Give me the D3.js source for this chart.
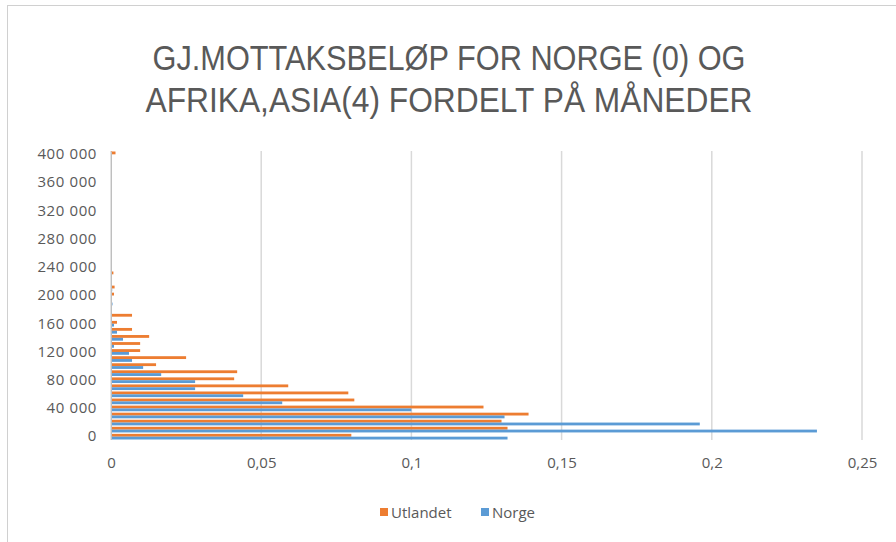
<!DOCTYPE html>
<html>
<head>
<meta charset="utf-8">
<script src="https://cdn.jsdelivr.net/npm/d3@7"></script>
<style>
  body { margin: 0; background: #fff; }
  svg { display: block; font-family: 'Open Sans', sans-serif; }
</style>
</head>
<body>
<div id="chart"></div>
<script>
// Categories (amount brackets) and share values per series
const categories = [0, 10000, 20000, 30000, 40000, 50000, 60000, 70000, 80000, 90000,
    100000, 110000, 120000, 130000, 140000, 150000, 160000, 170000, 180000, 190000,
    200000, 210000, 220000, 230000, 240000, 250000, 260000, 270000, 280000, 290000,
    300000, 310000, 320000, 330000, 340000, 350000, 360000, 370000, 380000, 390000, 400000];

const utlandet = [0.080, 0.132, 0.130, 0.139, 0.124, 0.081, 0.079, 0.059, 0.041, 0.042,
    0.015, 0.025, 0.0097, 0.0097, 0.0127, 0.007, 0.002, 0.007, 0, 0,
    0.001, 0.0012, 0, 0.0008, 0, 0, 0, 0, 0, 0,
    0, 0, 0, 0, 0, 0, 0, 0, 0, 0, 0.0015];

const norge = [0.132, 0.235, 0.196, 0.131, 0.100, 0.057, 0.044, 0.028, 0.028, 0.0167,
    0.0107, 0.007, 0.006, 0.001, 0.004, 0.002, 0.001, 0, 0, 0.0005,
    0.0003, 0.0004, 0, 0, 0, 0, 0, 0, 0, 0,
    0, 0, 0, 0, 0, 0, 0, 0, 0, 0, 0];

const xTicks = [0, 0.05, 0.1, 0.15, 0.2, 0.25];
const yLabelEvery = 4;
const titleLines = ['GJ.MOTTAKSBELØP FOR NORGE (0) OG', 'AFRIKA,ASIA(4) FORDELT PÅ MÅNEDER'];
const seriesNames = ['Utlandet', 'Norge'];
const colors = { Utlandet: '#ED7D31', Norge: '#5B9BD5' };

const width = 896, height = 542;
const svg = d3.select('#chart').append('svg')
    .attr('width', width)
    .attr('height', height);

// chart frame
svg.append('rect')
    .attr('x', 7.5).attr('y', 5.5)
    .attr('width', 900).attr('height', 600)
    .attr('fill', '#fff')
    .attr('stroke', '#d0d0d0');

const nb = d3.formatLocale({ decimal: ',', thousands: '\u00a0', grouping: [3], currency: ['', ' kr'] });
const fmtY = nb.format(',d');
const fmtX = v => (v === 0 ? '0' : nb.format('.2~f')(v));

const x = d3.scaleLinear().domain([0, 0.25]).range([111, 862]);
const y = d3.scaleBand().domain(categories).range([439.5, 151.5]).paddingInner(0.2);
const sub = d3.scaleBand().domain(['Utlandet', 'Norge']).range([0, y.bandwidth()]);

// gridlines
svg.append('g')
    .selectAll('line')
    .data(xTicks)
    .join('line')
    .attr('x1', d => x(d)).attr('x2', d => x(d))
    .attr('y1', 151).attr('y2', 440)
    .attr('stroke', '#d9d9d9')
    .attr('stroke-width', 1.5);

// title - squeezed to the width of the original Calibri Light lines
const titleWidths = [593, 607];
svg.append('g')
    .selectAll('text')
    .data(titleLines)
    .join('text')
    .attr('x', 449)
    .attr('y', (d, i) => 70 + i * 42)
    .attr('text-anchor', 'middle')
    .attr('textLength', (d, i) => titleWidths[i])
    .attr('lengthAdjust', 'spacingAndGlyphs')
    .attr('fill', '#595959')
    .style('font-family', "'Liberation Sans', Arial, sans-serif")
    .style('font-size', '35px')
    .text(d => d);

// bars
const rows = categories.map((c, i) => ({ cat: c, Utlandet: utlandet[i], Norge: norge[i] }));
const groups = svg.append('g')
    .selectAll('g')
    .data(rows)
    .join('g')
    .attr('transform', d => `translate(0,${y(d.cat)})`);

groups.selectAll('rect')
    .data(d => seriesNames.map(s => ({ key: s, value: d[s] })))
    .join('rect')
    .attr('x', x(0))
    .attr('y', d => sub(d.key))
    .attr('width', d => x(d.value) - x(0))
    .attr('height', sub.bandwidth())
    .attr('fill', d => colors[d.key]);

// y axis
const yAxis = d3.axisLeft(y)
    .tickValues(categories.filter((c, i) => i % yLabelEvery === 0))
    .tickFormat(fmtY)
    .tickSize(0)
    .tickPadding(14);
svg.append('g')
    .attr('transform', `translate(${x(0)},0)`)
    .call(yAxis)
    .call(g => g.select('.domain').attr('stroke', '#bfbfbf'))
    .call(g => g.selectAll('text')
        .attr('fill', '#595959')
        .style('font-size', '15px')
        .style('letter-spacing', '0.6px')
        .style('font-family', "'Open Sans', sans-serif"));

// x axis labels
const xAxis = d3.axisBottom(x)
    .tickValues(xTicks)
    .tickFormat(fmtX)
    .tickSize(0)
    .tickPadding(17);
svg.append('g')
    .attr('transform', 'translate(0,440)')
    .call(xAxis)
    .call(g => g.select('.domain').remove())
    .call(g => g.selectAll('text')
        .attr('fill', '#595959')
        .style('font-size', '15px')
        .style('font-family', "'Open Sans', sans-serif"));

// legend
const legendX = [380, 481];
const legend = svg.append('g')
    .selectAll('g')
    .data(seriesNames)
    .join('g')
    .attr('transform', (d, i) => `translate(${legendX[i]},512)`);
legend.append('rect')
    .attr('x', 0).attr('y', -4)
    .attr('width', 8).attr('height', 8)
    .attr('fill', d => colors[d]);
legend.append('text')
    .attr('x', 11).attr('y', 5.5)
    .attr('fill', '#595959')
    .style('font-size', '15px')
    .style('font-family', "'Open Sans', sans-serif")
    .text(d => d);
</script>
</body>
</html>
